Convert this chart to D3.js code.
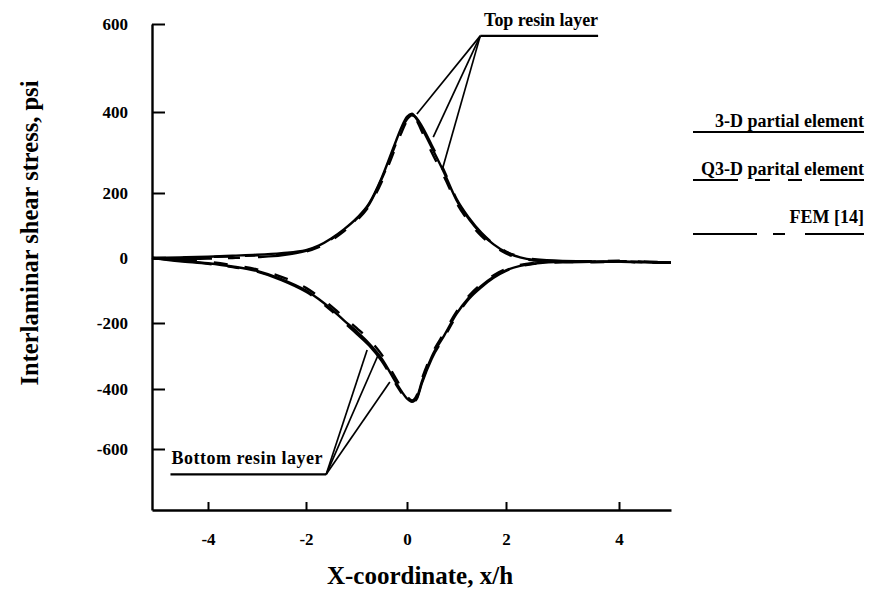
<!DOCTYPE html>
<html>
<head>
<meta charset="utf-8">
<script src="https://cdn.jsdelivr.net/npm/d3@7"></script>
<style>
  body { margin: 0; background: #fff; }
  text { font-family: "Liberation Serif", "Times New Roman", serif; font-weight: bold; fill: #000; }
</style>
</head>
<body>
<script>
// x/h positions shared by every curve
var xs = [-5, -4.5, -4, -3.5, -3, -2.5, -2, -1.75, -1.5, -1.25, -1, -0.75, -0.5, -0.25, -0.1, 0, 0.1, 0.2, 0.3, 0.5, 0.75, 1, 1.25, 1.5, 1.75, 2, 2.25, 2.5, 3, 3.5, 4, 4.5, 5];

// top resin layer
var top3D  = [0, 2, 4, 7, 10, 15, 24, 38, 60, 88, 122, 168, 238, 318, 365, 388, 396, 382, 360, 312, 250, 178, 120, 75, 42, 18, 2, -6, -11, -12, -11, -13, -15];
var topQ3D = [0, 1, 3, 5, 8, 12, 20, 33, 54, 82, 115, 160, 228, 305, 352, 378, 390, 378, 352, 300, 240, 170, 112, 68, 37, 14, -1, -8, -12, -13, -12, -14, -15];
var topFEM = [0, -3, -2, 0, 3, 8, 22, 36, 58, 86, 120, 165, 235, 312, 360, 382, 392, 384, 365, 318, 255, 182, 124, 78, 44, 20, 4, -4, -9, -10, -8, -12, -14];

// bottom resin layer
var bot3D  = [0, -8, -16, -26, -40, -65, -100, -126, -157, -192, -225, -262, -308, -372, -410, -432, -443, -428, -378, -302, -238, -172, -122, -86, -58, -38, -24, -17, -12, -12, -11, -12, -14];
var botQ3D = [0, -6, -12, -22, -35, -58, -92, -118, -148, -182, -215, -250, -296, -360, -400, -425, -438, -420, -370, -295, -230, -165, -116, -80, -53, -34, -21, -15, -11, -11, -10, -11, -13];
var botFEM = [0, -10, -18, -28, -42, -68, -104, -130, -162, -198, -232, -268, -315, -378, -415, -437, -445, -432, -383, -308, -244, -178, -126, -90, -61, -40, -26, -18, -13, -12, -11, -13, -15];

var xTicks = [-4, -2, 0, 2, 4];
var yTicks = [-600, -400, -200, 0, 200, 400, 600];

// leader lines (data coordinates)
var topLabel = { text: "Top resin layer", at: [1.48, 573], end: 3.63, targets: [[0.2, 395], [0.53, 338], [0.71, 257]] };
var botLabel = { text: "Bottom resin layer", at: [-1.6, -683], end: -4.67, targets: [[-0.79, -282], [-0.58, -300], [-0.34, -379]] };

var legendNames = ["3-D partial element", "Q3-D parital element", "FEM [14]"];
var dashes = [null, "14,17", "60,16,12,18"];

var svg = d3.select("body").append("svg")
    .attr("width", 873)
    .attr("height", 597);

// the scanned figure is slightly stretched, so both scales are piecewise
var x = d3.scaleLinear()
    .domain([-5, -4, -2, 0, 2, 4, 5])
    .range([152, 208, 306, 407, 506, 619, 671]);

var y = d3.scaleLinear()
    .domain([-800, -600, -400, -200, 0, 200, 400, 600])
    .range([510, 449, 389, 323, 258, 193, 112, 24]);

var xAxis = svg.append("g")
    .attr("transform", "translate(0,510)")
    .call(d3.axisBottom(x).tickValues(xTicks).tickSize(-8).tickSizeOuter(0).tickPadding(23).tickFormat(function (d) { return String(d); }));

var yAxis = svg.append("g")
    .attr("transform", "translate(152,0)")
    .call(d3.axisLeft(y).tickValues(yTicks).tickSize(-13).tickSizeOuter(0).tickPadding(24).tickFormat(function (d) { return String(d); }));

svg.selectAll(".domain").attr("stroke-width", 2.4);
svg.selectAll(".tick line").attr("stroke-width", 2);
svg.selectAll(".tick text").attr("font-family", "Liberation Serif").attr("font-weight", "bold").attr("font-size", 17);

var line = d3.line()
    .x(function (d) { return x(d[0]); })
    .y(function (d) { return y(d[1]); })
    .curve(d3.curveMonotoneX);

var series = [
    [top3D, 0], [topQ3D, 1], [topFEM, 2],
    [bot3D, 0], [botQ3D, 1], [botFEM, 2]
];

svg.append("g")
    .selectAll("path")
    .data(series)
    .enter()
    .append("path")
    .attr("d", function (s) { return line(d3.zip(xs, s[0])); })
    .attr("fill", "none")
    .attr("stroke", "#000")
    .attr("stroke-width", 2.4)
    .attr("stroke-dasharray", function (s) { return dashes[s[1]]; });

// annotations
function annotate(lab, anchor) {
    var g = svg.append("g");
    var ox = x(lab.at[0]), oy = y(lab.at[1]);
    g.selectAll("line.lead")
        .data(lab.targets)
        .enter()
        .append("line")
        .attr("x1", ox).attr("y1", oy)
        .attr("x2", function (d) { return x(d[0]); })
        .attr("y2", function (d) { return y(d[1]); })
        .attr("stroke", "#000")
        .attr("stroke-width", 1.7);
    g.append("line")
        .attr("x1", ox).attr("y1", oy)
        .attr("x2", x(lab.end)).attr("y2", oy)
        .attr("stroke", "#000")
        .attr("stroke-width", 2.2);
    g.append("text")
        .attr("x", x(lab.end) + (anchor === "end" ? 0 : 1))
        .attr("y", oy - 10)
        .attr("text-anchor", anchor)
        .attr("font-size", 18)
        .attr("textLength", anchor === "end" ? 114 : 151)
        .text(lab.text);
}
annotate(topLabel, "end");
annotate(botLabel, "start");

// legend
var legend = svg.append("g")
    .selectAll("g")
    .data(legendNames)
    .enter()
    .append("g")
    .attr("transform", function (d, i) { return "translate(0," + [0, 48, 96][i] + ")"; });

legend.append("text")
    .attr("x", 864)
    .attr("y", 127)
    .attr("text-anchor", "end")
    .attr("font-size", 18)
    .text(function (d) { return d; });

legend.append("line")
    .attr("x1", 693)
    .attr("x2", 864)
    .attr("y1", function (d, i) { return [132, 132, 138][i]; })
    .attr("y2", function (d, i) { return [132, 132, 138][i]; })
    .attr("stroke", "#000")
    .attr("stroke-width", 2.2)
    .attr("stroke-dasharray", function (d, i) { return [null, "45,17,15,18,14,18,44", "64,16,12,20,59"][i]; });

// axis titles
svg.append("text")
    .attr("x", 420)
    .attr("y", 584)
    .attr("text-anchor", "middle")
    .attr("font-size", 25)
    .text("X-coordinate, x/h");

svg.append("text")
    .attr("transform", "translate(38,233) rotate(-90)")
    .attr("text-anchor", "middle")
    .attr("font-size", 24.5)
    .text("Interlaminar shear stress, psi");
</script>
</body>
</html>
